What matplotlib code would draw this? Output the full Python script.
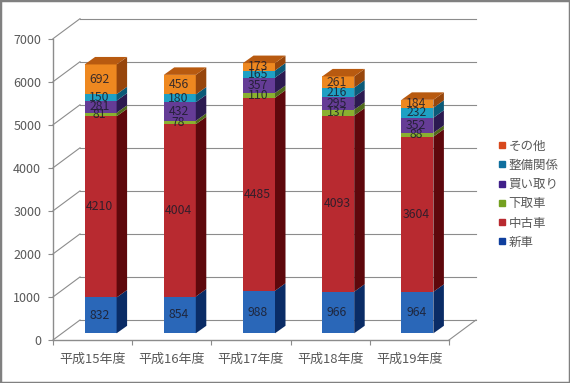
import matplotlib
matplotlib.use('Agg')
import matplotlib.pyplot as plt
from matplotlib.lines import Line2D
from matplotlib.patches import Polygon, Rectangle

plt.rcParams['font.family'] = ['Noto Sans CJK JP', 'DejaVu Sans']

years = ['平成15年度', '平成16年度', '平成17年度', '平成18年度', '平成19年度']
series_names = ['新車', '中古車', '下取車', '買い取り', '整備関係', 'その他']
shinsha = [832, 854, 988, 966, 964]
chuko = [4210, 4004, 4485, 4093, 3604]
shitadori = [81, 78, 110, 137, 88]
kaitori = [281, 432, 357, 295, 352]
seibi = [150, 180, 165, 216, 232]
sonota = [692, 456, 173, 261, 184]
series = [shinsha, chuko, shitadori, kaitori, seibi, sonota]

front_colors = ['#2a67b8', '#b82a30', '#8ab030', '#653c96', '#1fa0c4', '#ee8820']
side_colors = ['#0a2c66', '#5e080c', '#4f6a1a', '#2c1a50', '#0b5a78', '#97460c']
legend_colors = ['#0f3f9e', '#b82a30', '#74a020', '#40208a', '#0f6f9e', '#d8481c']
top_color = '#b85a10'
axis_color = '#8c8c8c'
text_color = '#595959'

W, H = 570, 383
fig = plt.figure(figsize=(W / 100, H / 100), dpi=100, facecolor='white')
ax = fig.add_axes([53 / W, 1 - 340 / H, 396 / W, 301.3 / H])
ax.patch.set_alpha(0)
ax.set_xlim(-0.5, 4.5)
ax.set_ylim(0, 7000)

# depth of the walls and of the bars, in axis units
wall_dx, wall_dy = 27 / 79.2, 20 / 0.04304
bar_dx, bar_dy = 10.5 / 79.2, 7.5 / 0.04304
bar_x, bar_y = 8 / 79.2, 6.7 / 0.04304
bar_w = 32 / 79.2

# back wall, left wall and floor
for v in range(0, 8000, 1000):
    ax.plot([-0.5, -0.5 + wall_dx], [v, v + wall_dy], color=axis_color, lw=0.8, clip_on=False, zorder=1)
    ax.plot([-0.5 + wall_dx, 4.5 + wall_dx], [v + wall_dy, v + wall_dy], color=axis_color, lw=0.8, clip_on=False, zorder=1)
ax.plot([4.5, 4.5 + wall_dx], [0, wall_dy], color=axis_color, lw=0.8, clip_on=False, zorder=1)

for i in range(len(years)):
    x0 = i + bar_x - bar_w / 2
    x1 = x0 + bar_w
    base = bar_y
    for s, vals in enumerate(series):
        v = vals[i]
        ax.bar(i + bar_x, v, bar_w, bottom=base, color=front_colors[s], clip_on=False, zorder=3)
        ax.add_patch(Polygon([(x1, base), (x1 + bar_dx, base + bar_dy), (x1 + bar_dx, base + v + bar_dy), (x1, base + v)],
                             facecolor=side_colors[s], edgecolor='none', clip_on=False, zorder=3))
        ax.text(i + bar_x - 0.015, base + v / 2, str(v), ha='center', va='center', fontsize=8.8,
                color='#1c1c2a', alpha=0.85, zorder=5, clip_on=False)
        base += v
    ax.add_patch(Polygon([(x0, base), (x1, base), (x1 + bar_dx, base + bar_dy), (x0 + bar_dx, base + bar_dy)],
                         facecolor=top_color, edgecolor='none', clip_on=False, zorder=3))

ax.set_xticks([i - 0.5 for i in range(6)])
ax.set_xticks(range(5), minor=True)
ax.set_xticklabels([])
ax.set_xticklabels(years, minor=True, fontsize=9.4, color=text_color)
ax.tick_params(axis='x', which='major', length=3.5, width=0.8, color=axis_color, direction='out')
ax.tick_params(axis='x', which='minor', length=0, pad=9)
ax.set_yticks(range(0, 8000, 1000))
ax.tick_params(axis='y', length=3.5, width=0.8, color=axis_color, labelsize=9, labelcolor=text_color, pad=5)
for side in ['top', 'right']:
    ax.spines[side].set_visible(False)
for side in ['left', 'bottom']:
    ax.spines[side].set_color(axis_color)
    ax.spines[side].set_linewidth(1)

handles = [Line2D([], [], linestyle='none', marker='s', markersize=4, color=c) for c in legend_colors]
fig.legend(handles[::-1], series_names[::-1], loc='upper left', bbox_to_anchor=(495.5 / W, 1 - 139.5 / H),
           frameon=False, fontsize=9, labelcolor=text_color, handletextpad=0.05, handlelength=1.0,
           labelspacing=0.5, borderpad=0, borderaxespad=0)

# chart frame
fig.add_artist(Rectangle((0, 0), 1, 1, transform=fig.transFigure, fill=False, edgecolor='#808080', lw=2.5))

fig.savefig('out.png', dpi=100)
